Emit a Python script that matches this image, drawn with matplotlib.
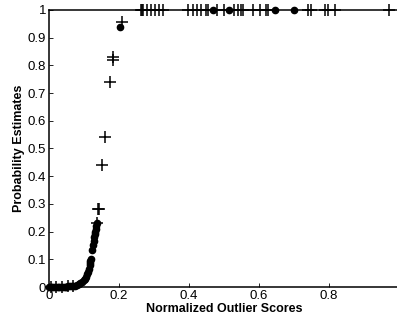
import matplotlib
matplotlib.use('Agg')
import matplotlib.pyplot as plt

plt.rcParams['font.family'] = ['Liberation Sans', 'DejaVu Sans']

# normal points (dots)
dot_x = [0.0, 0.005, 0.01, 0.015, 0.02, 0.025, 0.03, 0.035, 0.04, 0.045, 0.05,
         0.055, 0.06, 0.065, 0.07, 0.075, 0.08, 0.085, 0.09, 0.095, 0.1,
         0.104, 0.107, 0.110, 0.112, 0.114, 0.116, 0.117, 0.118, 0.119,
         0.124, 0.126, 0.128, 0.130, 0.131, 0.132, 0.134, 0.135, 0.136,
         0.203, 0.469, 0.514, 0.646, 0.7]
dot_y = [0.0, 0.0, 0.0, 0.0, 0.0, 0.0, 0.0, 0.0, 0.001, 0.001, 0.001,
         0.002, 0.002, 0.003, 0.004, 0.005, 0.007, 0.01, 0.014, 0.019, 0.024,
         0.03, 0.038, 0.048, 0.056, 0.066, 0.078, 0.088, 0.095, 0.102,
         0.135, 0.15, 0.165, 0.18, 0.19, 0.2, 0.21, 0.22, 0.23,
         0.94, 1.0, 1.0, 1.0, 1.0]

# outliers (plus)
plus_x = [0.005, 0.02, 0.037, 0.055, 0.07,
          0.137, 0.14, 0.142, 0.151, 0.16, 0.174, 0.182, 0.184, 0.208,
          0.263, 0.266, 0.269, 0.28, 0.291, 0.303, 0.314, 0.326, 0.397, 0.411,
          0.423, 0.434, 0.449, 0.454, 0.48, 0.5, 0.529, 0.54, 0.549, 0.554,
          0.583, 0.603, 0.62, 0.626, 0.74, 0.749, 0.789, 0.797, 0.817, 0.971]
plus_y = [0.0, 0.0, 0.001, 0.002, 0.004,
          0.23, 0.28, 0.28, 0.44, 0.54, 0.74, 0.82, 0.83, 0.957,
          1, 1, 1, 1, 1, 1, 1, 1, 1, 1,
          1, 1, 1, 1, 1, 1, 1, 1, 1, 1,
          1, 1, 1, 1, 1, 1, 1, 1, 1, 1]

fig = plt.figure(figsize=(3.97, 3.2), dpi=100)
ax = fig.add_axes([0.1234, 0.103, 0.8816, 0.866])

ax.plot(dot_x, dot_y, 'ko', markersize=4.5, clip_on=False)
ax.plot(plus_x, plus_y, 'k+', markersize=9, markeredgewidth=1.1, clip_on=False)

ax.set_xlim(0, 1)
ax.set_ylim(0, 1)
ax.set_xticks([0, 0.2, 0.4, 0.6, 0.8])
ax.set_xticklabels(['0', '0.2', '0.4', '0.6', '0.8'])
ax.set_yticks([0, 0.1, 0.2, 0.3, 0.4, 0.5, 0.6, 0.7, 0.8, 0.9, 1])
ax.set_yticklabels(['0', '0.1', '0.2', '0.3', '0.4', '0.5', '0.6', '0.7', '0.8', '0.9', '1'])
ax.tick_params(direction='in', length=3, width=0.6, labelsize=9.5, pad=2)
for s in ax.spines.values():
    s.set_linewidth(1.1)

ax.set_xlabel('Normalized Outlier Scores', fontsize=9, fontweight='bold', labelpad=1)
ax.set_ylabel('Probability Estimates', fontsize=9, fontweight='bold', labelpad=2)

fig.savefig('out.png', dpi=100)
